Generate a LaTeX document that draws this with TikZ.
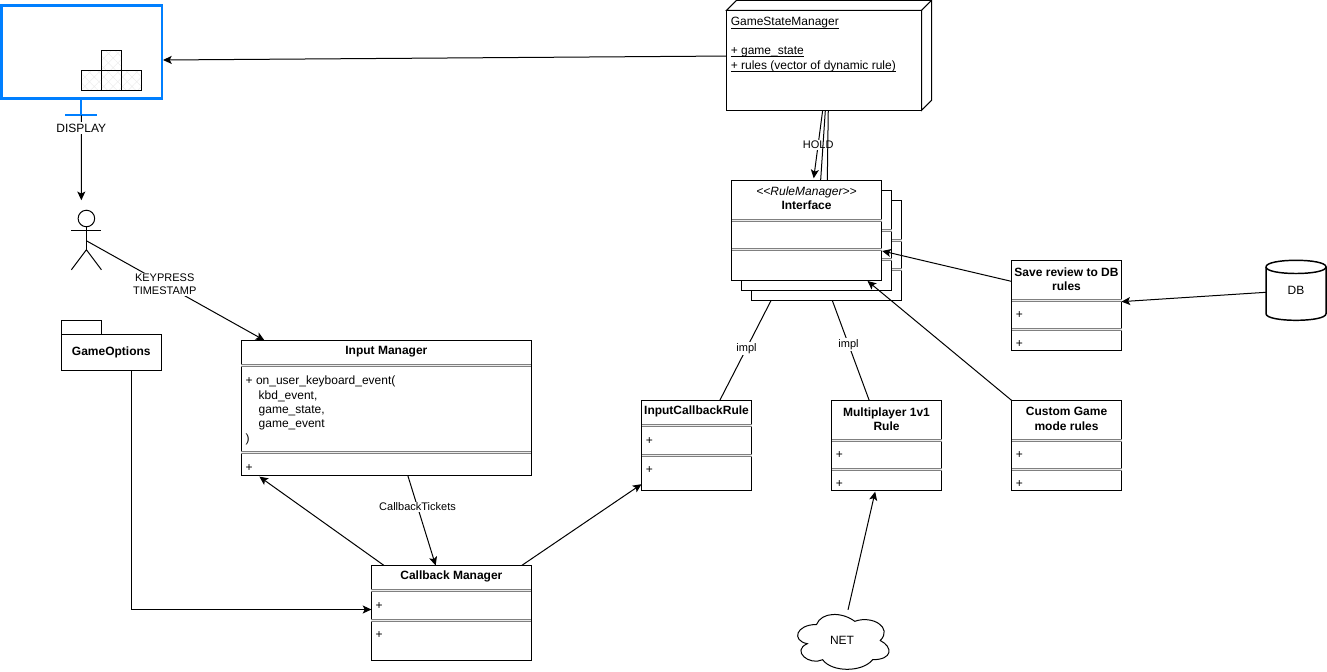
\documentclass[tikz,border=0pt]{standalone}
\usepackage{fontspec}
\setmainfont{Liberation Sans}
\definecolor{displayblue}{RGB}{0,127,255}
\definecolor{sepgray}{RGB}{128,128,128}
\usetikzlibrary{arrows.meta, patterns.meta}
\newcommand{\uln}[1]{\underline{\smash{#1}}}
\tikzstyle{classbox} = [rectangle, draw=black, fill=white, line width=0.75pt, outer sep=0pt, inner sep=0pt]
\tikzstyle{classtitle} = [font=\fontsize{9}{10.8}\selectfont\bfseries, align=center, inner sep=0pt]
\tikzstyle{member} = [font=\fontsize{9}{10.8}\selectfont, align=left, anchor=west, inner sep=0pt]
\tikzstyle{sepline} = [draw=sepgray, line width=0.75pt, double=black!8, double distance=0.7pt]
\tikzstyle{arrow} = [line width=0.75pt, ->, >={Stealth[length=6.5pt,width=6pt,inset=1.5pt]}, draw=black]
\tikzstyle{plainline} = [line width=0.75pt, draw=black]
\tikzstyle{edgelabel} = [font=\fontsize{8.25}{9.9}\selectfont, align=center, fill=white, inner sep=1pt]
\tikzstyle{tetrisblock} = [rectangle, draw=black, line width=0.75pt, minimum size=15pt, outer sep=0pt, inner sep=0pt, pattern={Hatch[angle=45,distance=5pt,line width=0.4pt]}, pattern color=black!7]
\begin{document}
\begin{tikzpicture}[x=0.75pt, y=-0.75pt, node distance=75pt]
        \useasboundingbox (0,0) rectangle (1327,671);

        % display
        \node (monitor) [rectangle, draw=displayblue, line width=1.8pt, outer sep=0pt, minimum width=120pt, minimum height=69.75pt] at (81.7,51.8) {};
        \node (block0) [tetrisblock] at (91.3,80.3) {};
        \node (block1) [tetrisblock, node distance=15pt, right of=block0] {};
        \node (block2) [tetrisblock, node distance=15pt, right of=block1] {};
        \node (block3) [tetrisblock, node distance=15pt, above of=block1] {};
        \coordinate (monitorbase) at (81.3,115.3);
        \draw [draw=displayblue, line width=1.5pt] (monitor.south -| monitorbase) -- (monitorbase);
        \draw [draw=displayblue, line width=1.5pt] ([xshift=-12pt]monitorbase) -- ([xshift=12pt]monitorbase);

        % actor
        \node (head) [circle, draw=black, line width=0.75pt, minimum size=12.4pt, outer sep=0pt, inner sep=0pt] at (86.4,218.5) {};
        \coordinate (actorhip) at ([yshift=-17.25pt]head.south);
        \coordinate (actorwaist) at ([yshift=-10.5pt]head.south);
        \draw [plainline] (head.south) -- (actorhip);
        \draw [plainline] ([yshift=-2.5pt,xshift=-11.25pt]head.south) -- ([yshift=-2.5pt,xshift=11.25pt]head.south);
        \draw [plainline] ([xshift=-11.25pt,yshift=-15pt]actorhip) -- (actorhip) -- ([xshift=11.25pt,yshift=-15pt]actorhip);

        % game state
        \node (gsm) [classbox, minimum width=146.25pt, minimum height=75pt] at (824,60.3) {};
        \draw [plainline, fill=white] (gsm.north west) -- ([xshift=7.5pt,yshift=7.5pt]gsm.north west) -- ([xshift=7.5pt,yshift=7.5pt]gsm.north east) -- ([xshift=7.5pt,yshift=7.5pt]gsm.south east) -- (gsm.south east) -- (gsm.north east) -- cycle;
        \draw [plainline] (gsm.north east) -- ([xshift=7.5pt,yshift=7.5pt]gsm.north east);
        \node (gsmtext) [member, anchor=north west] at ([xshift=3pt,yshift=-11.5pt]gsm.north west) {\uln{GameStateManager}\\[10.8pt]\uln{+ game\_state}\\\uln{+ rules (vector of dynamic rule)}};

        % rule interface stack
        \node (rule3) [classbox, minimum width=112.5pt, minimum height=75pt] at (826.5,250.3) {};
        \draw [sepline] ([yshift=-30pt]rule3.north west) -- ([yshift=-30pt]rule3.north east);
        \draw [sepline] ([yshift=-51.75pt]rule3.north west) -- ([yshift=-51.75pt]rule3.north east);
        \node (rule2) [classbox, minimum width=112.5pt, minimum height=75pt] at (816.5,240.3) {};
        \draw [sepline] ([yshift=-30pt]rule2.north west) -- ([yshift=-30pt]rule2.north east);
        \draw [sepline] ([yshift=-51.75pt]rule2.north west) -- ([yshift=-51.75pt]rule2.north east);
        \node (rule1) [classbox, minimum width=112.5pt, minimum height=75pt] at (806.5,230.3) {};
        \draw [sepline] ([yshift=-30pt]rule1.north west) -- ([yshift=-30pt]rule1.north east);
        \draw [sepline] ([yshift=-51.75pt]rule1.north west) -- ([yshift=-51.75pt]rule1.north east);
        \node (rule1title) [classtitle] at ([yshift=-13.5pt]rule1.north) {\mdseries\itshape <{}<RuleManager>{}>\\Interface};

        % rule classes
        \node (cbrule) [classbox, minimum width=82.5pt, minimum height=67.5pt] at (696.5,445.3) {};
        \draw [sepline] ([yshift=-18.75pt]cbrule.north west) -- ([yshift=-18.75pt]cbrule.north east);
        \draw [sepline] ([yshift=-41.25pt]cbrule.north west) -- ([yshift=-41.25pt]cbrule.north east);
        \node (cbruletitle) [classtitle] at ([yshift=-8.5pt]cbrule.north) {InputCallbackRule};
        \node (cbruleattr) [member] at ([xshift=3pt,yshift=-30.5pt]cbrule.north west) {+};
        \node (cbruleop) [member] at ([xshift=3pt,yshift=-52.25pt]cbrule.north west) {+};

        \node (netrule) [classbox, minimum width=82.5pt, minimum height=67.5pt, right of=cbrule, xshift=67.5pt] {};
        \draw [sepline] ([yshift=-30pt]netrule.north west) -- ([yshift=-30pt]netrule.north east);
        \draw [sepline] ([yshift=-51.75pt]netrule.north west) -- ([yshift=-51.75pt]netrule.north east);
        \node (netruletitle) [classtitle] at ([yshift=-14pt]netrule.north) {Multiplayer 1v1\\Rule};
        \node (netruleattr) [member] at ([xshift=3pt,yshift=-41pt]netrule.north west) {+};
        \node (netruleop) [member] at ([xshift=3pt,yshift=-62.75pt]netrule.north west) {+};

        \node (customrule) [classbox, minimum width=82.5pt, minimum height=67.5pt, right of=netrule, xshift=60pt] {};
        \draw [sepline] ([yshift=-30pt]customrule.north west) -- ([yshift=-30pt]customrule.north east);
        \draw [sepline] ([yshift=-51.75pt]customrule.north west) -- ([yshift=-51.75pt]customrule.north east);
        \node (customruletitle) [classtitle] at ([yshift=-14pt]customrule.north) {Custom Game\\mode rules};
        \node (customruleattr) [member] at ([xshift=3pt,yshift=-41pt]customrule.north west) {+};
        \node (customruleop) [member] at ([xshift=3pt,yshift=-62.75pt]customrule.north west) {+};

        \node (saverule) [classbox, minimum width=82.5pt, minimum height=67.5pt, above of=customrule, yshift=30pt] {};
        \draw [sepline] ([yshift=-30pt]saverule.north west) -- ([yshift=-30pt]saverule.north east);
        \draw [sepline] ([yshift=-51.75pt]saverule.north west) -- ([yshift=-51.75pt]saverule.north east);
        \node (saveruletitle) [classtitle] at ([yshift=-14pt]saverule.north) {Save review to DB\\rules};
        \node (saveruleattr) [member] at ([xshift=3pt,yshift=-41pt]saverule.north west) {+};
        \node (saveruleop) [member] at ([xshift=3pt,yshift=-62.75pt]saverule.north west) {+};

        % managers
        \node (options) [classbox, minimum width=75pt, minimum height=27pt] at (111.3,352.3) {\fontsize{9}{10.8}\selectfont\bfseries GameOptions};
        \draw [plainline] (options.north west) -- ([yshift=10.5pt]options.north west) -- ([xshift=30pt,yshift=10.5pt]options.north west) -- ([xshift=30pt]options.north west);

        \node (input) [classbox, minimum width=217.5pt, minimum height=101.25pt] at (386.4,407.8) {};
        \draw [sepline] ([yshift=-18.75pt]input.north west) -- ([yshift=-18.75pt]input.north east);
        \draw [sepline] ([yshift=-84pt]input.north west) -- ([yshift=-84pt]input.north east);
        \node (inputtitle) [classtitle] at ([yshift=-8.75pt]input.north) {Input Manager};
        \node (inputattr) [member] at ([xshift=3pt,yshift=-52.5pt]input.north west) {+ on\_user\_keyboard\_event(\\\hspace*{9.75pt}kbd\_event,\\\hspace*{9.75pt}game\_state,\\\hspace*{9.75pt}game\_event\\)};
        \node (inputop) [member] at ([xshift=3pt,yshift=-95.5pt]input.north west) {+};

        \node (callback) [classbox, minimum width=120pt, minimum height=71.25pt, below of=input, xshift=48.75pt, yshift=-78.9pt] {};
        \draw [sepline] ([yshift=-18.75pt]callback.north west) -- ([yshift=-18.75pt]callback.north east);
        \draw [sepline] ([yshift=-41.25pt]callback.north west) -- ([yshift=-41.25pt]callback.north east);
        \node (callbacktitle) [classtitle] at ([yshift=-8.5pt]callback.north) {Callback Manager};
        \node (callbackattr) [member] at ([xshift=3pt,yshift=-30.25pt]callback.north west) {+};
        \node (callbackop) [member] at ([xshift=3pt,yshift=-52pt]callback.north west) {+};

        % outside world
        \node (db) [rectangle, minimum width=45pt, minimum height=45pt, inner sep=0pt, outer sep=0pt, font=\fontsize{9}{10.8}\selectfont] at (1296,290.3) {DB};
        \draw [plainline, line width=1.1pt, shift={(db.north west)}, x=45pt, y=-45pt] (0,0.11) .. controls (0,-0.037) and (1,-0.037) .. (1,0.11) -- (1,0.89) .. controls (1,1.037) and (0,1.037) .. (0,0.89) -- cycle;
        \draw [plainline, line width=1.1pt, shift={(db.north west)}, x=45pt, y=-45pt] (0,0.11) .. controls (0,0.257) and (1,0.257) .. (1,0.11);
        \node (net) [rectangle, minimum width=76.5pt, minimum height=48pt, inner sep=0pt, outer sep=0pt, font=\fontsize{9}{10.8}\selectfont] at (842,640.5) {NET};
        \draw [plainline, shift={(net.north west)}, x=76.5pt, y=-48pt] (0.25,0.25) .. controls (0.05,0.25) and (0,0.5) .. (0.16,0.55) .. controls (0,0.66) and (0.18,0.9) .. (0.31,0.8) .. controls (0.4,1) and (0.7,1) .. (0.8,0.8) .. controls (1,0.8) and (1,0.6) .. (0.875,0.5) .. controls (1,0.3) and (0.8,0.1) .. (0.625,0.2) .. controls (0.5,0.05) and (0.3,0.05) .. (0.25,0.25) -- cycle;

        % connectors
        \draw [arrow] ([yshift=3.2pt]gsm.west) -- ([xshift=1pt,yshift=-6.15pt]monitor.east);
        \draw [arrow] (monitorbase) --node[edgelabel, pos=0.15, font=\fontsize{9}{10.8}\selectfont] {DISPLAY} ([xshift=-3.8pt,yshift=7.5pt]head.north);
        \draw [arrow] (actorwaist) --node[edgelabel, pos=0.44] {KEYPRESS\\TIMESTAMP} ([xshift=-91.5pt]input.north);

        \draw [arrow] ([xshift=-1pt]gsm.south) --node[edgelabel, pos=0.5, yshift=-0.5pt] {HOLD} ([xshift=5.4pt,yshift=1.5pt]rule1.north);
        \draw [plainline] ([xshift=1pt]gsm.south) -- ([xshift=10.6pt]rule1.north);
        \draw [plainline] ([xshift=3.2pt]gsm.south) -- ([xshift=15.6pt]rule1.north);

        \draw [plainline] ([xshift=-41.5pt]rule3.south) --node[edgelabel, pos=0.48] {impl} ([xshift=17.5pt]cbrule.north);
        \draw [plainline] ([xshift=4.3pt]rule3.south) --node[edgelabel, pos=0.44] {impl} ([xshift=-13pt]netrule.north);
        \draw [arrow] ([yshift=-15.8pt]saverule.north west) -- ([xshift=0.5pt,yshift=-53pt]rule1.north east);
        \draw [arrow] (customrule.north west) -- ([xshift=-10.5pt,yshift=-0.5pt]rule1.south east);
        \draw [arrow] ([yshift=-1.5pt]db.west) -- ([yshift=-31pt]saverule.north east);
        \draw [arrow] ([xshift=4.5pt,yshift=-1pt]net.north) -- ([xshift=-8.5pt,yshift=-1pt]netrule.south);

        \draw [arrow] ([xshift=16pt]input.south) --node[edgelabel, pos=0.35] {CallbackTickets} ([xshift=-11.8pt]callback.north);
        \draw [arrow] ([xshift=-50.5pt]callback.north) -- ([xshift=13.5pt,yshift=-1pt]input.south west);
        \draw [arrow] ([xshift=52.7pt]callback.north) -- ([yshift=4.6pt]cbrule.south west);
        \draw [arrow] ([xshift=15pt]options.south) |- ([yshift=-33pt]callback.north west);
    \end{tikzpicture}
\end{document}
